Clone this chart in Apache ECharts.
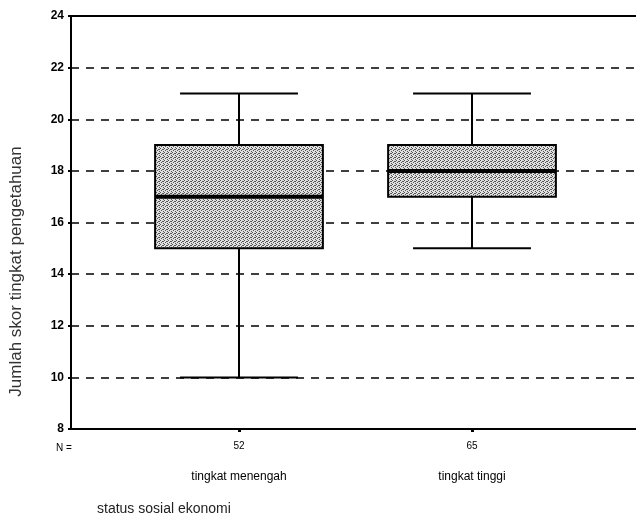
<!DOCTYPE html>
<html>
<head>
<meta charset="utf-8">
<script src="https://cdn.jsdelivr.net/npm/echarts@6/dist/echarts.min.js"></script>
<style>
  html, body { margin: 0; padding: 0; background: #fff; }
  #chart { width: 636px; height: 530px; }
</style>
</head>
<body>
<div id="chart"></div>
<script>
// Box plot data per group
const categories = ['tingkat menengah', 'tingkat tinggi'];
const nCounts = [52, 65];
const minVals = [10, 15];
const q1Vals = [15, 17];
const medianVals = [17, 18];
const q3Vals = [19, 19];
const maxVals = [21, 21];

// y scale
const yMin = 8;
const yMax = 24;
const yStep = 2;

const FONT = '"Liberation Sans", Arial, sans-serif';

// small stipple tile for the box fill
const tile = document.createElement('canvas');
tile.width = 4;
tile.height = 4;
(() => {
    const ctx = tile.getContext('2d');
    ctx.fillStyle = '#e0e0e0';
    ctx.fillRect(0, 0, 4, 4);
    ctx.fillStyle = '#555';
    [[0, 0], [2, 1], [1, 2], [3, 3], [3, 1]].forEach(([px, py]) => ctx.fillRect(px, py, 1, 1));
})();

const boxData = categories.map((c, i) => [i, minVals[i], q1Vals[i], medianVals[i], q3Vals[i], maxVals[i]]);

// draw one box with whiskers through the axes
const renderBox = (params, api) => {
    const idx = api.value(0);
    const x = api.coord([idx, api.value(3)])[0];
    const yLo = api.coord([idx, api.value(1)])[1];
    const yQ1 = api.coord([idx, api.value(2)])[1];
    const yMed = api.coord([idx, api.value(3)])[1];
    const yQ3 = api.coord([idx, api.value(4)])[1];
    const yHi = api.coord([idx, api.value(5)])[1];
    const band = api.size([1, 0])[0];
    const halfBox = band * 0.36;
    const halfCap = band * 0.253;
    const line = { stroke: '#000', lineWidth: 2 };
    return {
        type: 'group',
        children: [
            { type: 'line', shape: { x1: x, y1: yQ1, x2: x, y2: yLo }, style: line },
            { type: 'line', shape: { x1: x, y1: yQ3, x2: x, y2: yHi }, style: line },
            { type: 'line', shape: { x1: x - halfCap, y1: yLo, x2: x + halfCap, y2: yLo }, style: line },
            { type: 'line', shape: { x1: x - halfCap, y1: yHi, x2: x + halfCap, y2: yHi }, style: line },
            {
                type: 'rect',
                shape: { x: x - halfBox, y: yQ3, width: halfBox * 2, height: yQ1 - yQ3 },
                style: { fill: { image: tile, repeat: 'repeat' }, stroke: '#000', lineWidth: 2 },
            },
            { type: 'line', shape: { x1: x - halfBox, y1: yMed, x2: x + halfBox, y2: yMed }, style: { stroke: '#000', lineWidth: 4 } },
        ],
    };
};

const chart = echarts.init(document.getElementById('chart'), null, { renderer: 'canvas' });

const frameLine = { show: true, lineStyle: { color: '#000', width: 2 } };

chart.setOption({
    backgroundColor: '#fff',
    animation: false,
    textStyle: { fontFamily: FONT },
    grid: [
        // frame, y axis, dashed lines (runs off the right edge)
        { left: 70, right: 0, top: 16, bottom: 101 },
        // boxes
        { left: 122.5, right: 47.5, top: 16, bottom: 101 },
    ],
    xAxis: [
        {
            gridIndex: 0, type: 'value', min: 0, max: 1, position: 'bottom',
            axisLine: frameLine, axisTick: { show: false }, axisLabel: { show: false }, splitLine: { show: false },
        },
        {
            gridIndex: 0, type: 'value', min: 0, max: 1, position: 'top',
            axisLine: frameLine, axisTick: { show: false }, axisLabel: { show: false }, splitLine: { show: false },
        },
        {
            gridIndex: 1, type: 'category', data: categories, boundaryGap: true,
            axisLine: { show: false },
            axisTick: { show: true, alignWithLabel: true, length: 3, lineStyle: { color: '#000', width: 3 } },
            axisLabel: {
                margin: 12, color: '#000', fontSize: 10, fontFamily: FONT,
                formatter: (v, i) => String(nCounts[i]),
            },
            splitLine: { show: false },
        },
        {
            gridIndex: 1, type: 'category', data: categories, boundaryGap: true,
            position: 'bottom', offset: 30,
            axisLine: { show: false }, axisTick: { show: false },
            axisLabel: { margin: 12, color: '#000', fontSize: 12, fontFamily: FONT },
        },
    ],
    yAxis: [
        {
            gridIndex: 0, type: 'value', min: yMin, max: yMax, interval: yStep,
            name: 'Jumlah skor tingkat pengetahuan',
            nameLocation: 'middle', nameGap: 46,
            nameTextStyle: { color: '#333', fontSize: 17, fontFamily: FONT, padding: [0, 98, 0, 0] },
            axisLine: frameLine,
            axisTick: { show: true, length: 3, lineStyle: { color: '#000', width: 2 } },
            axisLabel: { margin: 7, color: '#000', fontSize: 12, fontWeight: 'bold', fontFamily: FONT },
            splitLine: { show: true, lineStyle: { color: '#000', width: 1.5, type: [8, 7] } },
        },
        {
            gridIndex: 1, type: 'value', min: yMin, max: yMax, interval: yStep, show: false,
            splitLine: { show: false },
        },
    ],
    graphic: [
        { type: 'text', left: 56, top: 443, style: { text: 'N =', fontSize: 10, fontFamily: FONT, fill: '#000' } },
        { type: 'text', left: 97, top: 502, style: { text: 'status sosial ekonomi', fontSize: 14, fontFamily: FONT, fill: '#222' } },
    ],
    series: [
        {
            type: 'custom',
            xAxisIndex: 2,
            yAxisIndex: 1,
            renderItem: renderBox,
            encode: { x: 0, y: [1, 2, 3, 4, 5] },
            data: boxData,
            silent: true,
        },
    ],
});
</script>
</body>
</html>
